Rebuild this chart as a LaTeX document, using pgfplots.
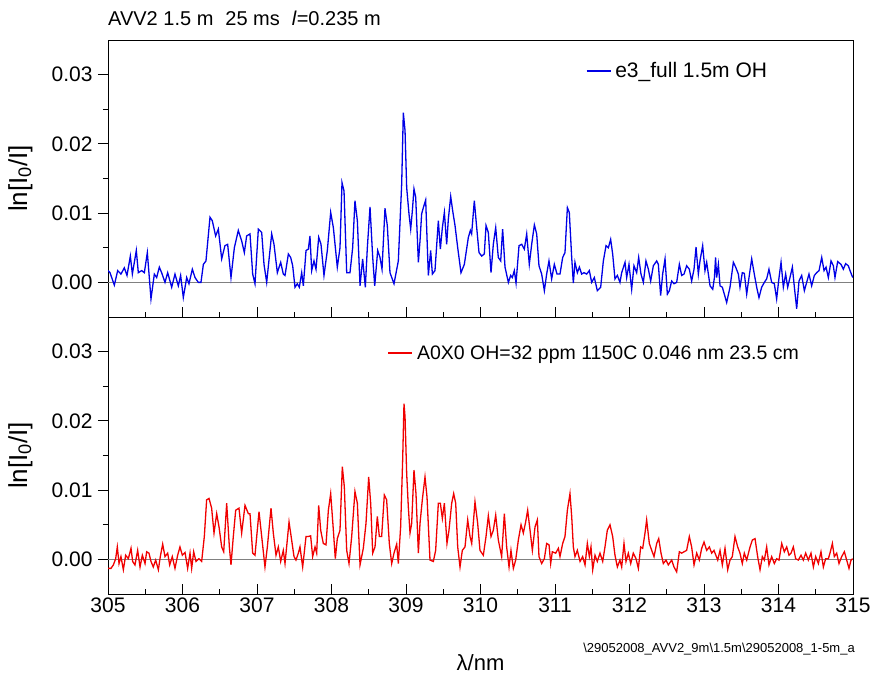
\documentclass[border=0pt]{standalone}
\usepackage{pgfplots}
\pgfplotsset{compat=1.18}
\usepackage{fontspec}
\setmainfont{Liberation Sans}
\pgfplotstableread{
x y
305.000 1.7
305.027 1.4
305.085 -0.4
305.130 1.7
305.174 1.2
305.219 2.1
305.255 1.0
305.300 3.8
305.327 1.2
305.380 4.6
305.407 1.4
305.452 1.7
305.488 1.4
305.528 4.3
305.577 -2.4
305.622 1.2
305.653 0.7
305.689 2.2
305.720 1.4
305.765 0
305.801 1.4
305.855 -0.7
305.899 1.2
305.944 -0.5
305.975 1.0
306.011 -2.2
306.056 0.7
306.087 -0.2
306.132 1.9
306.168 0.7
306.212 0
306.248 0
306.280 2.6
306.315 3.1
306.369 9.4
306.400 8.9
306.445 6.7
306.481 7.7
306.526 3.4
306.570 5.3
306.606 5.5
306.651 0.7
306.696 5.0
306.749 7.5
306.794 6.0
306.830 4.3
306.861 6.7
306.906 7.0
306.942 1.2
306.973 -0.2
307.018 7.7
307.063 7.2
307.094 2.6
307.130 0
307.197 7.0
307.228 5.5
307.273 1.4
307.318 2.9
307.353 1.2
307.376 1.0
307.421 4.1
307.452 3.6
307.479 2.4
307.510 -0.7
307.541 -0.2
307.568 -0.7
307.600 1.4
307.622 -0.5
307.658 4.6
307.689 4.8
307.711 6.7
307.734 1.7
307.765 3.1
307.792 1.9
307.828 6.5
307.859 5.5
307.899 1.0
307.944 4.6
307.989 10.1
308.025 7.9
308.078 2.2
308.114 5.0
308.141 14.4
308.168 13.2
308.204 1.4
308.248 1.4
308.284 5.0
308.315 11.8
308.347 8.9
308.383 -0.5
308.418 3.4
308.454 -0.7
308.481 5.0
308.517 10.9
308.553 3.6
308.580 -0.5
308.620 4.6
308.651 3.6
308.678 1.9
308.718 10.7
308.749 8.2
308.785 1.4
308.839 -0.2
308.897 3.1
308.942 14.2
308.964 24.5
308.987 21.9
309.009 13.7
309.040 9.9
309.063 7.7
309.085 10.3
309.107 13.5
309.130 12.3
309.166 2.9
309.188 6.0
309.210 9.9
309.233 10.8
309.264 11.9
309.300 1.0
309.331 4.6
309.354 1.2
309.389 1.7
309.434 8.9
309.461 4.8
309.488 7.9
309.515 10.1
309.546 5.5
309.568 9.1
309.600 12.4
309.627 10.3
309.658 8.2
309.694 5.0
309.738 1.4
309.783 2.6
309.837 6.5
309.864 7.5
309.881 7.0
309.917 11.8
309.949 7.9
309.980 4.3
310.016 3.8
310.051 4.1
310.074 8.2
310.105 7.2
310.141 1.4
310.172 5.5
310.204 7.9
310.239 3.6
310.271 3.1
310.297 7.7
310.329 2.2
310.374 0
310.405 1.0
310.427 0.7
310.454 1.7
310.477 -0.1
310.517 5.3
310.553 5.5
310.588 4.8
310.620 7.0
310.655 2.6
310.687 5.5
310.723 8.3
310.754 7.0
310.785 2.4
310.821 1.2
310.857 -1.2
310.888 1.2
310.919 3.1
310.955 0.5
310.991 2.6
311.027 1.2
311.067 1.2
311.103 3.6
311.134 4.3
311.166 10.8
311.192 10.1
311.224 3.6
311.246 -0.1
311.268 2.9
311.300 1.4
311.327 2.2
311.358 1.2
311.389 1.4
311.425 1.2
311.461 1.7
311.492 0
311.528 0.7
311.568 -1.2
311.613 -0.7
311.649 3.1
311.685 5.3
311.716 5.0
311.747 6.2
311.774 4.1
311.805 0.5
311.837 1.0
311.872 0
311.895 1.4
311.940 2.9
311.962 0.7
311.993 2.6
312.029 -1.0
312.060 2.4
312.096 1.4
312.123 3.6
312.154 1.2
312.186 0
312.221 3.1
312.253 1.9
312.284 0.2
312.320 2.4
312.365 3.1
312.387 2.6
312.418 -1.9
312.445 1.2
312.477 3.4
312.508 -1.7
312.535 -1.2
312.566 0.2
312.597 -0.2
312.633 0
312.669 2.6
312.700 1.0
312.732 1.2
312.767 2.4
312.803 1.9
312.834 0.2
312.866 1.9
312.893 5.1
312.924 1.2
312.946 3.1
312.982 5.3
313.013 1.7
313.036 2.9
313.081 -0.5
313.117 -1.0
313.140 0.7
313.155 3.6
313.170 0.7
313.193 2.6
313.215 -0.5
313.246 -0.7
313.304 -2.9
313.349 -0.7
313.394 2.9
313.425 2.2
313.461 1.2
313.483 -0.7
313.514 1.4
313.541 1.3
313.573 -1.7
313.604 0.7
313.640 3.4
313.675 1.2
313.707 -0.7
313.738 -2.2
313.774 -0.7
313.810 0
313.841 0.5
313.872 1.9
313.908 0
313.944 -0.2
313.975 -2.4
314.007 0.7
314.034 2.9
314.065 -0.7
314.096 1.2
314.123 -0.7
314.154 0.7
314.186 2.2
314.213 -0.7
314.244 -3.8
314.275 0.2
314.311 1.0
314.347 -1.2
314.378 0
314.409 1.2
314.445 -0.5
314.481 1.0
314.512 1.4
314.544 1.7
314.580 3.6
314.611 1.7
314.638 2.2
314.669 0.7
314.705 3.1
314.736 2.4
314.758 0.7
314.794 3.0
314.839 2.6
314.870 1.9
314.901 2.7
314.937 2.4
314.960 1.7
314.996 0.7
}\topdata
\pgfplotstableread{
x y
305.000 -1.3
305.040 -1.3
305.072 -0.8
305.103 0.1
305.125 1.8
305.148 -0.6
305.174 0.4
305.206 -1.5
305.237 0.6
305.273 0.1
305.309 1.6
305.331 -0.3
305.362 -0.8
305.398 1.3
305.430 -1.1
305.461 0.6
305.497 -0.6
305.519 1.1
305.550 0.9
305.577 -0.3
305.608 -1.1
305.640 -0.1
305.676 -1.5
305.702 0.4
305.734 2.2
305.765 0.4
305.801 0.9
305.828 -0.8
305.863 0.4
305.899 -1.3
305.935 0.6
305.966 1.8
305.998 0.6
306.034 1.0
306.069 -1.3
306.101 0.9
306.123 -1.3
306.150 1.1
306.181 -0.3
306.221 0.1
306.257 -0.3
306.293 3.3
306.324 8.6
306.356 8.8
306.391 7.4
306.423 3.8
306.459 6.6
306.490 4.7
306.526 1.8
306.553 1.1
306.593 8.1
306.629 1.8
306.651 -0.8
306.682 3.3
306.714 7.1
306.758 7.4
306.794 3.8
306.839 7.8
306.884 6.6
306.906 6.6
306.942 0.9
306.973 0.6
307.027 6.9
307.063 3.3
307.107 -1.1
307.139 1.8
307.188 7.4
307.219 3.8
307.255 0.6
307.286 1.8
307.318 -0.3
307.353 1.3
307.376 -0.6
307.430 5.4
307.465 2.8
307.497 0.4
307.523 -0.1
307.555 0.9
307.577 1.8
307.613 -1.1
307.658 3.3
307.689 3.3
307.720 3.4
307.747 0.4
307.779 1.8
307.801 0.9
307.828 7.8
307.855 4.2
307.890 2.3
307.926 2.1
307.958 7.1
307.989 9.5
308.025 4.2
308.051 0.1
308.078 3.0
308.114 4.2
308.145 13.4
308.172 10.5
308.204 1.3
308.235 -0.6
308.271 3.3
308.315 9.8
308.347 8.1
308.383 -0.8
308.427 1.6
308.463 5.2
308.499 11.9
308.526 8.1
308.553 0.9
308.584 1.8
308.615 6.2
308.642 3.3
308.673 3.3
308.709 9.3
308.740 8.6
308.776 2.3
308.808 -0.6
308.839 0.9
308.875 2.2
308.897 -0.6
308.928 4.7
308.955 14.3
308.973 22.5
308.987 20.6
309.009 12.4
309.031 7.6
309.054 3.8
309.076 5.2
309.107 12.9
309.134 9.5
309.166 0.9
309.188 5.2
309.219 8.6
309.255 11.9
309.282 9.0
309.322 -0.1
309.367 -0.3
309.398 1.3
309.434 8.1
309.461 8.1
309.488 5.9
309.515 8.1
309.550 2.3
309.577 4.2
309.613 8.1
309.640 9.5
309.667 8.1
309.694 1.8
309.725 -1.1
309.756 1.3
309.792 1.8
309.828 5.7
309.859 3.3
309.882 2.3
309.926 8.3
309.962 5.2
309.993 1.3
310.038 0.6
310.074 3.3
310.105 6.3
310.141 3.3
310.172 4.2
310.204 6.4
310.239 2.8
310.284 0.4
310.320 6.6
310.351 1.8
310.383 -1.1
310.409 1.3
310.441 -1.3
310.472 -0.1
310.508 2.8
310.544 5.0
310.575 3.8
310.606 5.4
310.633 7.1
310.665 4.2
310.696 1.3
310.732 4.7
310.763 5.7
310.785 0.4
310.821 -0.6
310.857 0.1
310.888 2.3
310.920 2.1
310.942 -0.6
310.964 1.1
311.009 0.9
311.045 1.6
311.067 0.4
311.103 2.3
311.134 3.3
311.166 7.1
311.201 9.5
311.224 6.2
311.246 1.8
311.268 0.4
311.300 1.3
311.336 -0.3
311.371 0.4
311.403 -0.8
311.434 2.3
311.461 0.4
311.483 1.8
311.506 -1.5
311.537 0.6
311.568 -0.3
311.604 0.9
311.640 -0.3
311.671 1.8
311.702 4.2
311.738 5.0
311.774 3.3
311.805 0.6
311.837 -1.1
311.872 -0.1
311.895 -1.1
311.926 2.3
311.953 -0.3
311.984 0.9
312.016 -0.6
312.051 0.9
312.087 0.1
312.119 -1.3
312.150 1.8
312.177 1.6
312.208 3.8
312.230 5.7
312.266 2.3
312.298 1.3
312.329 0.4
312.365 2.3
312.392 3.0
312.423 0.9
312.454 -0.6
312.490 -0.1
312.521 -0.8
312.566 -0.1
312.597 -1.1
312.633 -1.8
312.669 1.1
312.700 0.9
312.732 1.1
312.767 1.3
312.803 3.3
312.834 1.8
312.866 -0.8
312.902 0.9
312.937 -0.1
312.969 1.6
313.000 2.5
313.036 1.3
313.072 1.8
313.103 0.9
313.134 1.3
313.148 0.9
313.184 -0.1
313.215 1.3
313.246 -0.8
313.282 1.6
313.318 -1.5
313.349 -0.1
313.380 0.4
313.416 3.3
313.452 1.8
313.483 0.9
313.514 -0.6
313.541 0.9
313.573 -0.1
313.618 1.8
313.649 2.8
313.685 3.0
313.720 0.4
313.752 -1.5
313.783 0.4
313.810 -0.1
313.841 1.8
313.872 -0.8
313.908 0.4
313.944 -0.6
313.975 0.1
314.007 -0.1
314.043 2.3
314.078 1.1
314.110 1.8
314.141 0.6
314.168 0.9
314.199 1.8
314.230 0.1
314.266 -0.1
314.302 0.6
314.333 -0.1
314.365 0.9
314.400 -0.1
314.436 0.9
314.468 -1.1
314.499 0.4
314.535 -0.6
314.570 1.1
314.602 -1.1
314.633 0.1
314.669 0.1
314.691 0.9
314.723 2.3
314.749 0.4
314.781 0.9
314.812 -0.6
314.848 0.4
314.884 1.1
314.915 -0.1
314.946 -1.3
314.973 -0.1
314.995 0.1
}\botdata
\pgfplotsset{
  panel/.style={
    scale only axis, width=745pt, height=277pt,
    clip mode=individual,
    xmin=305, xmax=315, ymin=-5, ymax=35,
    xtick={305,306,...,315}, minor x tick num=1,
    ytick={0,10,20,30}, yticklabels={0.00,0.01,0.02,0.03},
    minor y tick num=1,
    xtick pos=bottom, ytick pos=left,
    xtick align=inside, ytick align=outside,
    major tick length=10pt, minor tick length=5pt,
    tick style={black, line width=0.8pt},
    axis line style={line width=0.8pt},
    ticklabel style={font=\fontsize{21}{23}\selectfont},
    yticklabel style={xshift=-2pt},
    ylabel={ln[I\textsubscript{0}/I]},
    ylabel style={font=\fontsize{26}{28}\selectfont, at={(rel axis cs:0,0.5)}, anchor=south, yshift=72pt},
    legend style={draw=none, fill=none, font=\fontsize{19.5}{21}\selectfont, inner sep=1pt},
    legend image code/.code={\draw[#1] (0pt,0pt) -- (24pt,0pt);},
  }
}
\begin{document}
\begin{tikzpicture}
\path[use as bounding box] (0pt,0pt) rectangle (874pt,678pt);
\begin{axis}[panel, at={(108pt,361pt)}, anchor=south west,
  xticklabels={},
  legend style={at={(rel axis cs:0.640,0.888)}, anchor=west, font=\fontsize{21}{23}\selectfont}]
\addplot[gray, line width=0.8pt, forget plot] coordinates {(305,0) (315,0)};
\addplot[color={rgb,255:red,0;green,0;blue,230}, line width=1.3pt] table[x=x,y=y] {\topdata};
\addlegendentry{\hspace{2pt}e3\_full 1.5m OH}
\node[anchor=base west, font=\fontsize{20}{22}\selectfont, inner sep=0pt] at (rel axis cs:0,1) [yshift=14pt] {AVV2 1.5 m\hspace{0.6em}25 ms\hspace{0.6em}\textit{l}=0.235 m};
\end{axis}
\begin{axis}[panel, at={(108pt,84pt)}, anchor=south west,
  xticklabels={305,306,307,308,309,310,311,312,313,314,315},
  xlabel={λ/nm},
  xlabel style={font=\fontsize{22}{24}\selectfont, at={(rel axis cs:0.5,0)}, anchor=base, yshift=-76pt},
  legend style={at={(rel axis cs:0.374,0.870)}, anchor=west}]
\addplot[gray, line width=0.8pt, forget plot] coordinates {(305,0) (315,0)};
\addplot[color={rgb,255:red,240;green,0;blue,0}, line width=1.3pt] table[x=x,y=y] {\botdata};
\addlegendentry{\hspace{2pt}A0X0 OH=32 ppm 1150C 0.046 nm 23.5 cm}
\node[anchor=base east, font=\fontsize{13}{15}\selectfont, inner sep=0pt] at (rel axis cs:1,0) [yshift=-58pt, xshift=2pt] {\textbackslash 29052008\_AVV2\_9m\textbackslash 1.5m\textbackslash 29052008\_1-5m\_a};
\end{axis}
\end{tikzpicture}
\end{document}
